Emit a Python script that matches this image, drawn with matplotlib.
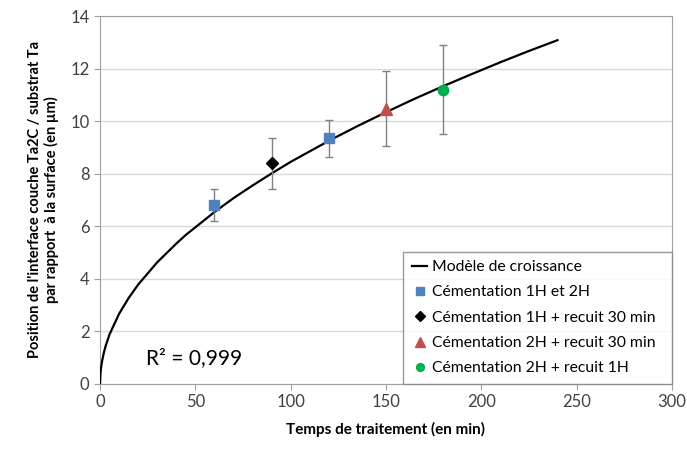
import numpy as np
import matplotlib.pyplot as plt

plt.rcParams['font.family'] = ['Lato', 'DejaVu Sans']

# growth model curve
model_t = [0, 0.2, 0.5, 1, 2, 3, 5, 10, 15, 20, 30, 40, 45, 60, 70, 80, 90, 100,
           120, 135, 150, 165, 180, 195, 210, 225, 240]
model_y = [0, 0.38, 0.60, 0.84, 1.19, 1.46, 1.89, 2.67, 3.27, 3.78, 4.63, 5.34, 5.67,
           6.54, 7.07, 7.55, 8.01, 8.45, 9.25, 9.81, 10.34, 10.85, 11.33, 11.79,
           12.24, 12.67, 13.08]

# measurements
cem_t = [60, 120]
cem_y = [6.8, 9.35]
cem_err = [0.6, 0.7]

c1r30_t = [90]
c1r30_y = [8.4]
c1r30_err = [0.97]

c2r30_t = [150]
c2r30_y = [10.48]
c2r30_err = [1.43]

c2r1_t = [180]
c2r1_y = [11.2]
c2r1_err = [1.69]

fig = plt.figure(figsize=(6.87, 4.51), dpi=100)
ax = fig.add_axes([0.1456, 0.1486, 0.8324, 0.8159])

ax.plot(model_t, model_y, color='black', lw=1.6, label='Modèle de croissance', zorder=3)

err_kw = dict(ecolor='#808080', elinewidth=1, capsize=3, capthick=1, ls='none', zorder=4)
ax.errorbar(cem_t, cem_y, yerr=cem_err, fmt='s', color='#4f81bd', ms=7.5,
            label='Cémentation 1H et 2H', **err_kw)
ax.errorbar(c1r30_t, c1r30_y, yerr=c1r30_err, fmt='D', color='black', ms=6.5,
            label='Cémentation 1H + recuit 30 min', **err_kw)
ax.errorbar(c2r30_t, c2r30_y, yerr=c2r30_err, fmt='^', color='#c0504d', ms=9,
            label='Cémentation 2H + recuit 30 min', **err_kw)
ax.errorbar(c2r1_t, c2r1_y, yerr=c2r1_err, fmt='o', color='#00b050', ms=7.5,
            label='Cémentation 2H + recuit 1H', **err_kw)

ax.set_xlim(0, 300)
ax.set_ylim(0, 14)
ax.set_xticks(np.arange(0, 301, 50))
ax.set_yticks(np.arange(0, 15, 2))
ax.grid(axis='y', color='#d9d9d9', lw=1)
ax.set_axisbelow(True)
for s in ax.spines.values():
    s.set_color('#a0a0a0')
ax.tick_params(colors='#a0a0a0', labelcolor='#404040', labelsize=12, length=4)

ax.set_xlabel('Temps de traitement (en min)', fontsize=11, fontweight='bold', labelpad=8)
ax.set_ylabel("Position de l'interface couche Ta2C / substrat Ta\npar rapport  à la surface (en µm)",
              fontsize=10.5, fontweight='bold', labelpad=8)

ax.text(24, 1.0, 'R² = 0,999', fontsize=15, va='center')

handles, labels = ax.get_legend_handles_labels()
handles = [h[0] if hasattr(h, 'lines') and h.lines else h for h in handles]
leg = ax.legend(handles, labels, loc='lower right', bbox_to_anchor=(0.53, 0.0, 0.47, 0.35),
                mode='expand', fontsize=11.3, frameon=True, fancybox=False,
                edgecolor='#808080', handlelength=1.0, handletextpad=0.3,
                markerscale=0.75, borderaxespad=0, labelspacing=0.72, borderpad=0.55)
leg.get_frame().set_linewidth(1)

plt.savefig('out.png', dpi=100)
